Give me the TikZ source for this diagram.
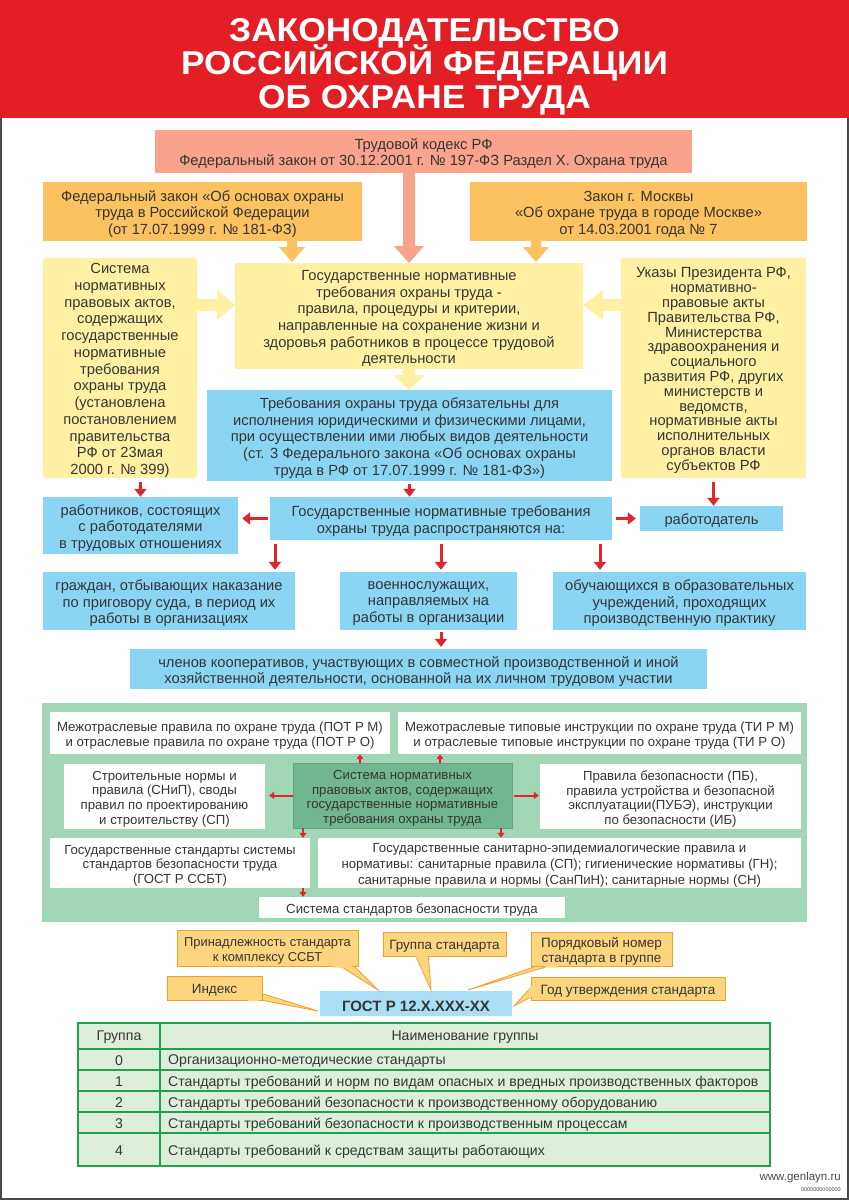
\documentclass[tikz,border=0pt]{standalone}
\usepackage{fontspec}
\setmainfont{Liberation Sans}
\newfontfamily\titlefont[FakeStretch=1.07]{Liberation Sans}
\usetikzlibrary{arrows.meta,calc}
\newcommand\fsz[2]{\fontsize{#1}{#2}\selectfont}
\newcommand\ttlfont{\titlefont\bfseries\fsz{33}{33.5}\lineskiplimit=-100pt\relax}
\newcommand\mybox[7]{\node[#6,minimum width={(#4)-(#2)},minimum height={(#5)-(#3)}] (#1) at ({((#2)+(#4))/2},{((#3)+(#5))/2}) {};
  \node[#6,fill=none,draw=none,minimum width=0pt,minimum height=0pt] (#1-t) at ([yshift=-2.5pt]#1.center) {#7};}
\definecolor{hdr}{HTML}{E31E24}
\definecolor{salm}{HTML}{F9A28C}
\definecolor{orng}{HTML}{FBC25F}
\definecolor{ylw}{HTML}{FFF0A3}
\definecolor{blu}{HTML}{8AD5F4}
\definecolor{rda}{HTML}{E3242B}
\definecolor{gpan}{HTML}{A1D6B7}
\definecolor{gdark}{HTML}{70B690}
\definecolor{gdarkb}{HTML}{5FA582}
\definecolor{txt}{HTML}{363636}
\definecolor{cfill}{HTML}{FDD57E}
\definecolor{cline}{HTML}{F0A030}
\definecolor{gost}{HTML}{A9DEF6}
\definecolor{tline}{HTML}{21A04E}
\definecolor{tfill}{HTML}{DDEFDA}
\definecolor{frame}{HTML}{4A4A4A}
\tikzset{
  b/.style={inner sep=0pt, align=center, text=txt, font=\fsz{14.7}{16.5}},
  gw/.style={b, fill=white, font=\fsz{13.2}{14.5}},
  ra/.style={draw=rda, line width=3pt, -{Triangle[length=8pt,width=12pt]}},
  rs/.style={draw=rda, line width=2pt, -{Triangle[length=5pt,width=7pt]}},
  co/.style={b, fill=cfill, draw=cline, line width=0.8pt, font=\fsz{13.5}{15}},
  tl/.style={draw=tline, line width=2.5pt},
}
\begin{document}
\begin{tikzpicture}[x=1pt,y=-1pt]
\useasboundingbox (0,0) rectangle (849,1200);
\fill[white] (0,0) rectangle (849,1200);
% header
\fill[hdr] (0,0) rectangle (849,118);
\node[font=\ttlfont, text=white, align=center, inner sep=0pt] (title) at (424.5,66.5) {ЗАКОНОДАТЕЛЬСТВО\\РОССИЙСКОЙ ФЕДЕРАЦИИ\\ОБ ОХРАНЕ ТРУДА};
\draw[frame, line width=2pt] (1,118) -- (1,1199) -- (848,1199) -- (848,118);

% top part
\mybox{trud}{155}{130}{692}{173}{b,fill=salm,font=\fsz{14.7}{16}}{Трудовой кодекс РФ\\Федеральный закон от 30.12.2001 г. № 197-ФЗ Раздел X. Охрана труда}
\mybox{ol}{43}{182}{362}{241}{b,fill=orng}{Федеральный закон «Об основах охраны\\труда в Российской Федерации\\(от 17.07.1999 г. № 181-ФЗ)}
\mybox{or}{470}{182}{807}{241}{b,fill=orng}{Закон г. Москвы\\«Об охране труда в городе Москве»\\от 14.03.2001 года № 7}
\mybox{yl}{43}{258}{197}{478}{b,fill=ylw,font=\fsz{14.7}{16.75}}{Система\\нормативных\\правовых актов,\\содержащих\\государственные\\нормативные\\требования\\охраны труда\\(установлена\\постановлением\\правительства\\РФ от 23мая\\2000 г. № 399)}
\mybox{yc}{235}{263}{583}{369}{b,fill=ylw,font=\fsz{14.7}{16.7}}{Государственные нормативные\\требования охраны труда -\\правила, процедуры и критерии,\\направленные на сохранение жизни и\\здоровья работников в процессе трудовой\\деятельности}
\mybox{yr}{621}{258}{806}{478}{b,fill=ylw,font=\fsz{14.7}{14.8}}{Указы Президента РФ,\\нормативно-\\правовые акты\\Правительства РФ,\\Министерства\\здравоохранения и\\социального\\развития РФ, других\\министерств и\\ведомств,\\нормативные акты\\исполнительных\\органов власти\\субъектов РФ}
\mybox{bm}{207}{390}{612}{481}{b,fill=blu,font=\fsz{14.7}{16.8}}{Требования охраны труда обязательны для\\исполнения юридическими и физическими лицами,\\при осуществлении ими любых видов деятельности\\(ст. 3 Федерального закона «Об основах охраны\\труда в РФ от 17.07.1999 г. № 181-ФЗ»)}
\mybox{rab}{43}{497}{238}{554}{b,fill=blu}{работников, состоящих\\с работодателями\\в трудовых отношениях}
\mybox{gos}{270}{497}{612}{540}{b,fill=blu}{Государственные нормативные требования\\охраны труда распространяются на:}
\mybox{rabd}{640}{506}{783}{531}{b,fill=blu}{работодатель}
\mybox{gra}{43}{572}{295}{630}{b,fill=blu}{граждан, отбывающих наказание\\по приговору суда, в период их\\работы в организациях}
\mybox{voe}{340}{572}{517}{630}{b,fill=blu}{военнослужащих,\\направляемых на\\работы в организации}
\mybox{obu}{553}{572}{806}{630}{b,fill=blu}{обучающихся в образовательных\\учреждений, проходящих\\производственную практику}
\mybox{chl}{130}{649}{707}{689}{b,fill=blu,font=\fsz{14.7}{16}}{членов кооперативов, участвующих в совместной производственной и иной\\хозяйственной деятельности, основанной на их личном трудовом участии}

% block arrows
\fill[salm] (403,173) -- (415,173) -- (415,246) -- (424,246) -- (409,263) -- (394,246) -- (403,246) -- cycle;
\fill[orng] (287,241) -- (297,241) -- (297,247) -- (305,247) -- (292,262) -- (279,247) -- (287,247) -- cycle;
\fill[orng] (531,241) -- (541,241) -- (541,247) -- (549,247) -- (536,262) -- (523,247) -- (531,247) -- cycle;
\fill[ylw] (197,299) -- (217,299) -- (217,290) -- (235,305) -- (217,320) -- (217,311) -- (197,311) -- cycle;
\fill[ylw] (621,299) -- (603,299) -- (603,290) -- (583,305) -- (603,320) -- (603,311) -- (621,311) -- cycle;
\fill[ylw] (403,369) -- (415,369) -- (415,375) -- (425,375) -- (409,390) -- (393,375) -- (403,375) -- cycle;

% red arrows
\coordinate (k1) at (275,0);
\coordinate (k2) at (441,0);
\coordinate (k3) at (600,0);
\draw[ra,shorten <=4pt] (yl.south -| rab.north) -- (rab.north);
\draw[ra,shorten <=3pt] (bm.south) -- (gos.north -| bm.south);
\draw[ra,shorten <=4pt] (yr.south) -- (yr.south |- rabd.north);
\draw[ra,shorten <=2pt,shorten >=4pt] (gos.west) -- (gos.west -| rab.east);
\draw[ra,shorten <=4pt,shorten >=4pt] (gos.east) -- (gos.east -| rabd.west);
\draw[ra,shorten <=4pt,shorten >=2pt] (gos.south -| k1) -- (gra.north -| k1);
\draw[ra,shorten <=4pt,shorten >=2pt] (gos.south -| k2) -- (voe.north -| k2);
\draw[ra,shorten <=4pt,shorten >=2pt] (gos.south -| k3) -- (obu.north -| k3);
\draw[ra,shorten <=2pt,shorten >=2pt] (voe.south -| k2) -- (chl.north -| k2);

% green panel
\mybox{gp}{42}{703}{807}{922}{fill=gpan}{}
\mybox{g1}{50}{712}{390}{754}{gw}{Межотраслевые правила по охране труда (ПОТ Р М)\\и отраслевые правила по охране труда (ПОТ Р О)}
\mybox{g2}{398}{712}{801}{754}{gw}{Межотраслевые типовые инструкции по охране труда (ТИ Р М)\\и отраслевые типовые инструкции по охране труда (ТИ Р О)}
\mybox{g3}{64}{764}{265}{829}{gw}{Строительные нормы и\\правила (СНиП), своды\\правил по проектированию\\и строительству (СП)}
\mybox{gc}{293}{763}{512}{828}{gw,fill=gdark,draw=gdarkb,line width=0.8pt}{Система нормативных\\правовых актов, содержащих\\государственные нормативные\\требования охраны труда}
\mybox{g4}{540}{764}{801}{829}{gw}{Правила безопасности (ПБ),\\правила устройства и безопасной\\эксплуатации(ПУБЭ), инструкции\\по безопасности (ИБ)}
\mybox{g5}{50}{838}{310}{888}{gw}{Государственные стандарты системы\\стандартов безопасности труда\\(ГОСТ Р ССБТ)}
\mybox{g6}{318}{838}{801}{888}{gw,font=\fsz{13.2}{16}}{Государственные санитарно-эпидемиалогические правила и\\нормативы: санитарные правила (СП); гигиенические нормативы (ГН);\\санитарные правила и нормы (СанПиН); санитарные нормы (СН)}
\mybox{g7}{259}{897}{565}{918}{gw}{Система стандартов безопасности труда}
\coordinate (m1) at (360,0);
\coordinate (m2) at (440,0);
\coordinate (m3) at (303,0);
\coordinate (m4) at (501,0);
\draw[rs] (gc.north -| m1) -- (g1.south -| m1);
\draw[rs] (gc.north -| m2) -- (g2.south -| m2);
\draw[rs,shorten >=4pt] (gc.west) -- (g3.east |- gc.west);
\draw[rs,shorten <=2pt,shorten >=1pt] (gc.east) -- (g4.west |- gc.east);
\draw[rs] (gc.south -| m3) -- (g5.north -| m3);
\draw[rs] (gc.south -| m4) -- (g6.north -| m4);
\draw[rs] (g5.south -| m3) -- (g7.north -| m3);

% GOST designation
\mybox{gost}{320}{991}{512}{1016}{b,fill=gost,font=\bfseries\fsz{15}{17}}{ГОСТ Р 12.X.XXX-XX}
\filldraw[fill=cfill,draw=cline,line width=0.8pt] (334,962) -- (378,990) -- (350,962) -- cycle;
\filldraw[fill=cfill,draw=cline,line width=0.8pt] (414,952) -- (431,990) -- (428,952) -- cycle;
\filldraw[fill=cfill,draw=cline,line width=0.8pt] (548,962) -- (468,990) -- (563,962) -- cycle;
\filldraw[fill=cfill,draw=cline,line width=0.8pt] (240,996) -- (318,1011) -- (257,992) -- cycle;
\filldraw[fill=cfill,draw=cline,line width=0.8pt] (535,983) -- (514,1006) -- (535,995) -- cycle;
\mybox{c1}{177}{930}{358}{966}{co,font=\fsz{12.9}{15}}{Принадлежность стандарта\\к комплексу ССБТ}
\mybox{c2}{383}{932}{506}{956}{co}{Группа стандарта}
\mybox{c3}{531}{932}{672}{966}{co}{Порядковый номер\\стандарта в группе}
\mybox{c4}{167}{976}{262}{1000}{co}{Индекс}
\mybox{c5}{531}{977}{725}{1000}{co}{Год утверждения стандарта}
\fill[cfill] (335.5,962) -- (348.5,962) -- (352,967.5) -- (333,967.5) -- cycle;
\fill[cfill] (415,952) -- (427,952) -- (427.5,957.5) -- (415.5,957.5) -- cycle;
\fill[cfill] (549.5,962) -- (561.5,962) -- (558,967.5) -- (544,967.5) -- cycle;
\fill[cfill] (243,995.5) -- (257,992) -- (259,1001) -- (248,1001) -- cycle;
\fill[cfill] (534,984) -- (534,994.5) -- (529,999) -- (529,988) -- cycle;

% table
\mybox{tab}{78}{1023}{770}{1166}{fill=tfill}{}
\draw[tl] (tab.north west) rectangle (tab.south east);
\draw[tl] (160,1023) -- (160,1166);
\foreach \yy in {1049,1070,1091,1112,1133} \draw[tl] (78,\yy) -- (770,\yy);
\tikzset{tt/.style={b,font=\fsz{14.1}{16}}}
\node[tt] (th1) at (119,1037.5) {Группа};
\node[tt] (th2) at (465,1037.5) {Наименование группы};
\node[tt] (n0) at (119,1060.5) {0};
\node[tt] (n1) at (119,1081.5) {1};
\node[tt] (n2) at (119,1102.5) {2};
\node[tt] (n3) at (119,1123.5) {3};
\node[tt] (n4) at (119,1150.5) {4};
\node[tt,anchor=west] (d0) at (168,1061.5) {Организационно-методические стандарты};
\node[tt,anchor=west] (d1) at (168,1082.5) {Стандарты требований и норм по видам опасных и вредных производственных факторов};
\node[tt,anchor=west] (d2) at (168,1103.5) {Стандарты требований безопасности к производственному оборудованию};
\node[tt,anchor=west] (d3) at (168,1124.5) {Стандарты требований безопасности к производственным процессам};
\node[tt,anchor=west] (d4) at (168,1151.5) {Стандарты требований к средствам защиты работающих};

% footer
\node[anchor=east, inner sep=0pt, text=frame, font=\fsz{11.5}{12}] (www) at (841,1178) {www.genlayn.ru};
\node[anchor=east, inner sep=0pt, text=frame, font=\fsz{5.5}{6}] (code) at (841,1190) {0000000000000};
\end{tikzpicture}
\end{document}
